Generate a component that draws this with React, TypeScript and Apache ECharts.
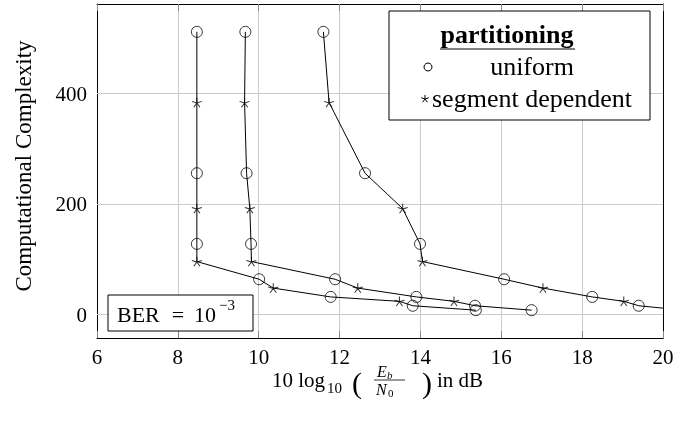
import React, { useEffect, useRef } from 'react';
import * as echarts from 'echarts';

// ---- data ----
const complexity = [512, 384, 256, 192, 128, 96, 64, 48, 32, 24, 16, 8];
const partitioning = ['uniform', 'segment', 'uniform', 'segment', 'uniform', 'segment', 'uniform', 'segment', 'uniform', 'segment', 'uniform', 'uniform'];
const ebn0CurveA = [8.47, 8.47, 8.47, 8.47, 8.47, 8.47, 10.01, 10.36, 11.78, 13.48, 13.81, 15.37];
const ebn0CurveB = [9.67, 9.65, 9.7, 9.78, 9.81, 9.82, 11.89, 12.45, 13.9, 14.83, 15.35, 16.75];
const ebn0CurveC = [11.6, 11.74, 12.63, 13.56, 13.99, 14.05, 16.07, 17.03, 18.25, 19.03, 19.4, 20.5];
const yTicks = [0, 200, 400];
const xTicks = [6, 8, 10, 12, 14, 16, 18, 20];
const legendTitle = 'partitioning';
const legendUniform = 'uniform';
const legendSegment = 'segment dependent';
const yAxisTitle = 'Computational Complexity';

const SERIF = "'Liberation Serif', 'Times New Roman', serif";
const STAR = 'path://M0 0L0 -1M0 0L0.951 -0.309M0 0L0.588 0.809M0 0L-0.588 0.809M0 0L-0.951 -0.309';

const curves = [ebn0CurveA, ebn0CurveB, ebn0CurveC];

function starLines(cx: number, cy: number, r: number) {
  const out: any[] = [];
  for (let i = 0; i < 5; i++) {
    const a = -Math.PI / 2 + (i * 2 * Math.PI) / 5;
    out.push({
      type: 'line',
      z: 101,
      shape: { x1: cx, y1: cy, x2: cx + r * Math.cos(a), y2: cy + r * Math.sin(a) },
      style: { stroke: '#000', lineWidth: 1 },
    });
  }
  return out;
}

export default function App() {
  const ref = useRef<HTMLDivElement>(null);
  useEffect(() => {
    if (!ref.current) return;
    const chart = echarts.init(ref.current, undefined, { renderer: 'svg' });

    const lineSeries = curves.map((xs) => ({
      type: 'line',
      z: 10,
      data: xs.map((x, i) => [x, complexity[i]]),
      symbol: 'none',
      showSymbol: false,
      lineStyle: { color: '#000', width: 1 },
      clip: true,
      silent: true,
    }));

    const uniformPts: number[][] = [];
    const segmentPts: number[][] = [];
    curves.forEach((xs) =>
      xs.forEach((x, i) => {
        if (partitioning[i] === 'uniform') uniformPts.push([x, complexity[i]]);
        else segmentPts.push([x, complexity[i]]);
      })
    );

    const tickLabel = { fontSize: 21, fontFamily: SERIF, color: '#000' };

    chart.setOption({
      animation: false,
      grid: { left: 97, right: 34, top: 4, bottom: 86 },
      xAxis: [
        {
          type: 'value', min: 6, max: 20, interval: 2, position: 'bottom',
          axisLine: { show: true, onZero: false, lineStyle: { color: '#000', width: 1 } },
          axisTick: { show: true, inside: true, length: 7, lineStyle: { color: '#888' } },
          axisLabel: { ...tickLabel, margin: 8, customValues: xTicks },
          splitLine: { show: true, lineStyle: { color: '#cbcbcb', width: 1 } },
        },
        {
          type: 'value', min: 6, max: 20, interval: 2, position: 'top',
          axisLine: { show: true, onZero: false, lineStyle: { color: '#000', width: 1 } },
          axisTick: { show: true, inside: true, length: 7, lineStyle: { color: '#888' } },
          axisLabel: { show: false },
          splitLine: { show: false },
        },
      ],
      yAxis: [
        {
          type: 'value', min: -42.4, max: 562.4, position: 'left',
          axisLine: { show: true, onZero: false, lineStyle: { color: '#000', width: 1 } },
          axisTick: { show: true, inside: true, length: 7, customValues: yTicks, lineStyle: { color: '#888' } },
          axisLabel: { ...tickLabel, margin: 10, customValues: yTicks },
          splitLine: { show: false },
        },
        {
          type: 'value', min: -42.4, max: 562.4, position: 'right',
          axisLine: { show: true, onZero: false, lineStyle: { color: '#000', width: 1 } },
          axisTick: { show: true, inside: true, length: 7, customValues: yTicks, lineStyle: { color: '#888' } },
          axisLabel: { show: false },
          splitLine: { show: false },
        },
      ],
      series: [
        {
          type: 'line', data: [], z: 1, silent: true,
          markLine: {
            silent: true, symbol: ['none', 'none'], label: { show: false },
            lineStyle: { color: '#cbcbcb', type: 'solid', width: 1 },
            data: yTicks.map((v) => ({ yAxis: v })),
          },
        },
        ...lineSeries,
        {
          type: 'scatter', z: 11, data: uniformPts, symbol: 'circle', symbolSize: 11, clip: true, silent: true,
          itemStyle: { color: 'rgba(0,0,0,0)', borderColor: '#000', borderWidth: 1 },
        },
        {
          type: 'scatter', z: 11, data: segmentPts, symbol: STAR, symbolSize: [10, 9.5], clip: true, silent: true,
          itemStyle: { color: 'rgba(0,0,0,0)', borderColor: '#000', borderWidth: 1 },
        },
      ],
      graphic: [
        // y axis title
        {
          type: 'text', x: 23, y: 166, rotation: Math.PI / 2, z: 100,
          style: { text: yAxisTitle, font: `23px ${SERIF}`, fill: '#000', textAlign: 'center', textVerticalAlign: 'middle' },
        },
        // x axis title pieces
        { type: 'text', x: 272, y: 380, z: 100, style: { text: '10 log', font: `21px ${SERIF}`, fill: '#000', textAlign: 'left', textVerticalAlign: 'middle' } },
        { type: 'text', x: 327, y: 388, z: 100, style: { text: '10', font: `15px ${SERIF}`, fill: '#000', textAlign: 'left', textVerticalAlign: 'middle' } },
        { type: 'text', x: 352, y: 382, z: 100, style: { text: '(', font: `30px ${SERIF}`, lineHeight: 20, fill: '#000', textAlign: 'left', textVerticalAlign: 'middle' } },
        { type: 'text', x: 377, y: 371, z: 100, style: { text: 'E', font: `italic 16px ${SERIF}`, fill: '#000', textAlign: 'left', textVerticalAlign: 'middle' } },
        { type: 'text', x: 387, y: 375, z: 100, style: { text: 'b', font: `italic 11px ${SERIF}`, fill: '#000', textAlign: 'left', textVerticalAlign: 'middle' } },
        { type: 'line', z: 100, shape: { x1: 374, y1: 380, x2: 405, y2: 380 }, style: { stroke: '#000', lineWidth: 0.8 } },
        { type: 'text', x: 376, y: 389, z: 100, style: { text: 'N', font: `italic 16px ${SERIF}`, fill: '#000', textAlign: 'left', textVerticalAlign: 'middle' } },
        { type: 'text', x: 388, y: 393, z: 100, style: { text: '0', font: `11px ${SERIF}`, fill: '#000', textAlign: 'left', textVerticalAlign: 'middle' } },
        { type: 'text', x: 422, y: 382, z: 100, style: { text: ')', font: `30px ${SERIF}`, lineHeight: 20, fill: '#000', textAlign: 'left', textVerticalAlign: 'middle' } },
        { type: 'text', x: 437, y: 380, z: 100, style: { text: 'in dB', font: `21px ${SERIF}`, fill: '#000', textAlign: 'left', textVerticalAlign: 'middle' } },
        // legend
        { type: 'rect', z: 100, shape: { x: 389, y: 11, width: 261, height: 109 }, style: { fill: '#fff', stroke: '#000', lineWidth: 1 } },
        { type: 'text', x: 507, y: 34, z: 101, style: { text: legendTitle, font: `bold 26px ${SERIF}`, fill: '#000', textAlign: 'center', textVerticalAlign: 'middle' } },
        { type: 'line', z: 101, shape: { x1: 440, y1: 49, x2: 575, y2: 49 }, style: { stroke: '#000', lineWidth: 1.2 } },
        { type: 'circle', z: 101, shape: { cx: 428, cy: 67, r: 4 }, style: { fill: 'none', stroke: '#000', lineWidth: 1 } },
        { type: 'text', x: 532, y: 66, z: 101, style: { text: legendUniform, font: `26px ${SERIF}`, fill: '#000', textAlign: 'center', textVerticalAlign: 'middle' } },
        ...starLines(425, 99, 4),
        { type: 'text', x: 432, y: 98, z: 101, style: { text: legendSegment, font: `26px ${SERIF}`, fill: '#000', textAlign: 'left', textVerticalAlign: 'middle' } },
        // BER box
        { type: 'rect', z: 100, shape: { x: 108, y: 295, width: 145, height: 36 }, style: { fill: '#fff', stroke: '#000', lineWidth: 1 } },
        { type: 'text', x: 117, y: 314, z: 101, style: { text: 'BER', font: `22px ${SERIF}`, fill: '#000', textAlign: 'left', textVerticalAlign: 'middle' } },
        { type: 'text', x: 178, y: 314, z: 101, style: { text: '=', font: `22px ${SERIF}`, fill: '#000', textAlign: 'center', textVerticalAlign: 'middle' } },
        { type: 'text', x: 194, y: 314, z: 101, style: { text: '10', font: `22px ${SERIF}`, fill: '#000', textAlign: 'left', textVerticalAlign: 'middle' } },
        { type: 'text', x: 219, y: 305, z: 101, style: { text: '\u22123', font: `15px ${SERIF}`, fill: '#000', textAlign: 'left', textVerticalAlign: 'middle' } },
      ],
    });
    return () => chart.dispose();
  }, []);
  return <div ref={ref} style={{ position: 'fixed', left: 0, top: 0, width: 697, height: 424 }} />;
}
